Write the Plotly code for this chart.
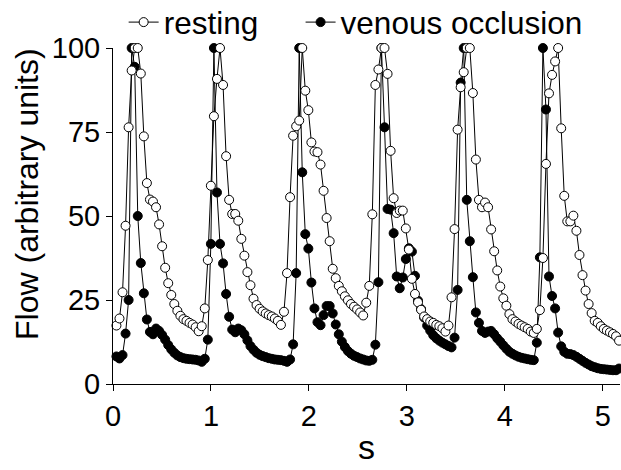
import numpy as np
import plotly.graph_objects as go

# sampling grid (s)
T0 = 0.035
DT = 0.0311

resting = [
    17.4, 19.5, 27.3, 47.1, 76.4, 93.3, 100, 100, 92.4, 73.7,
    59.8, 54.9, 54.3, 52.6, 47.5, 41, 34.6, 30, 26.5, 23.8,
    21.8, 20.3, 19.3, 18.8, 18.2, 17.7, 16.9, 15.7, 17.2, 22.5,
    36.9, 59, 79.7, 90.8, 100, 89, 67.8, 54.8, 50.6, 50.6,
    48.6, 43.2, 38.2, 33.3, 29.4, 25.4, 23.5, 22.4, 21.6, 21,
    20.5, 20.1, 19.5, 18.8, 17.6, 21.5, 33, 55.6, 73.9, 76.7,
    78.4, 100, 87.3, 81.5, 71.9, 69.2, 69, 65.3, 57.5, 49.4,
    42.5, 34.3, 31.5, 29.2, 27.6, 26.1, 24.9, 23.8, 23, 22.2,
    21.3, 20.4, 24.2, 29.2, 50.5, 89, 93.6, 100, 100, 92.3,
    69.4, 55.3, 50.9, 51.6, 51.6, 46.3, 40, 31.3, 26.8, 24.3,
    22.1, 20.1, 19.3, 18.6, 18.2, 17.6, 17.2, 16.6, 15.6, 17.4,
    25.8, 46.1, 75.7, 88.3, 92.8, 100, 100, 86.6, 66.8, 54.8,
    52.6, 54, 52.6, 46, 39.5, 33.8, 29, 25.5, 23.3, 20.8,
    19.3, 18.6, 17.9, 17.4, 16.9, 16.4, 15.6, 15.2, 16.4, 22,
    37.5, 65.5, 86.5, 92, 96, 100, 76.1, 56, 48.4, 48.4,
    50.1, 45.6, 38.4, 32.4, 27.8, 23.8, 21.1, 18.8, 18.2, 17.2,
    16.4, 15.9, 15.4, 14.9, 14.2, 12.9,
]

venous = [
    8.2, 7.6, 8.6, 15, 25, 100, 94.4, 50, 36, 27,
    19.2, 15.5, 14.8, 16.5, 15.8, 14.6, 13.2, 11.6, 10.3, 9.3,
    8.5, 8, 7.7, 7.5, 7.4, 7.3, 7.2, 7, 6.6, 7.5,
    13.2, 41.7, 100, 57, 41.7, 35.9, 26.8, 20, 16.2, 15.4,
    16.5, 16, 14.8, 13, 11.3, 10.2, 9.3, 8.7, 8.3, 8,
    7.7, 7.5, 7.3, 7.2, 7.1, 6.9, 6.6, 7.3, 11.8, 33,
    100, 63, 44.6, 40.3, 30.2, 22.5, 18.4, 17.5, 20.5, 23.2,
    23.2, 21, 17.7, 14.8, 12.6, 11, 9.8, 9, 8.4, 8,
    7.6, 7.3, 7, 6.9, 7.2, 11.7, 30.3, 100, 76.4, 52.1,
    51.9, 44.9, 32, 28.5, 31.7, 37.2, 40.4, 39.4, 32.2, 24.8,
    22.3, 19.8, 17.4, 15.9, 14.5, 13.6, 12.9, 12.3, 11.8, 11.3,
    10.9, 13.8, 28, 89.7, 100, 54.8, 42.5, 31.8, 21.3, 18.2,
    15.8, 15.2, 15.6, 15.8, 14.8, 13.6, 12.6, 11.5, 10.5, 9.6,
    9, 8.5, 8.1, 7.8, 7.6, 7.4, 7.2, 7.1, 12.3, 37.7,
    100, 81.7, 32, 26.2, 22.5, 15.3, 11.2, 9.6, 9, 8.9,
    8.6, 8.1, 7.5, 6.9, 6.3, 5.8, 5.3, 5, 4.7, 4.5,
    4.4, 4.3, 4.2, 4.1, 4.1, 4.6,
]

x_ticks = [0, 1, 2, 3, 4, 5]
y_ticks = [0, 25, 50, 75, 100]

t_rest = T0 + DT * np.arange(len(resting))
t_ven = T0 + DT * np.arange(len(venous))

FONT = "Liberation Sans, Arial, sans-serif"
MSIZE = 9

fig = go.Figure()
fig.add_trace(go.Scatter(
    x=t_ven, y=venous, mode="lines+markers", name="venous occlusion",
    line=dict(color="black", width=1),
    marker=dict(symbol="circle", size=MSIZE, color="black", line=dict(color="black", width=1)),
    cliponaxis=False, legend="legend2", showlegend=True,
))
fig.add_trace(go.Scatter(
    x=t_rest, y=resting, mode="lines+markers", name="resting",
    line=dict(color="black", width=1),
    marker=dict(symbol="circle", size=MSIZE, color="white", line=dict(color="black", width=1)),
    cliponaxis=False, legend="legend", showlegend=True,
))

axis_common = dict(
    showline=True, linecolor="black", linewidth=1,
    ticks="outside", ticklen=6, tickwidth=1, tickcolor="black",
    showgrid=False, zeroline=False,
    tickfont=dict(family=FONT, size=29, color="black"),
)

legend_common = dict(
    y=1.077, xanchor="left", yanchor="middle",
    orientation="h", bgcolor="rgba(0,0,0,0)",
    font=dict(family=FONT, size=31.5, color="black"),
)

fig.update_layout(
    width=621, height=470,
    margin=dict(l=113, r=1, t=48, b=86, autoexpand=False),
    paper_bgcolor="white", plot_bgcolor="white",
    font=dict(family=FONT, color="black"),
    showlegend=True,
    xaxis=dict(range=[0, 5.176], tickvals=x_ticks, **axis_common),
    yaxis=dict(range=[0, 100], tickvals=y_ticks, **axis_common),
    legend=dict(x=0.021, **legend_common),
    legend2=dict(x=0.37, **legend_common),
    annotations=[
        dict(
            text="Flow (arbitrary units)", textangle=-90,
            xref="paper", yref="paper", x=-0.170, y=0.565,
            xanchor="center", yanchor="middle", showarrow=False,
            font=dict(family=FONT, size=32, color="black"),
        ),
        dict(
            text="s",
            xref="paper", yref="paper", x=0.5, y=-0.1875,
            xanchor="center", yanchor="middle", showarrow=False,
            font=dict(family=FONT, size=34, color="black"),
        ),
    ],
)

fig.write_html("out.html")
